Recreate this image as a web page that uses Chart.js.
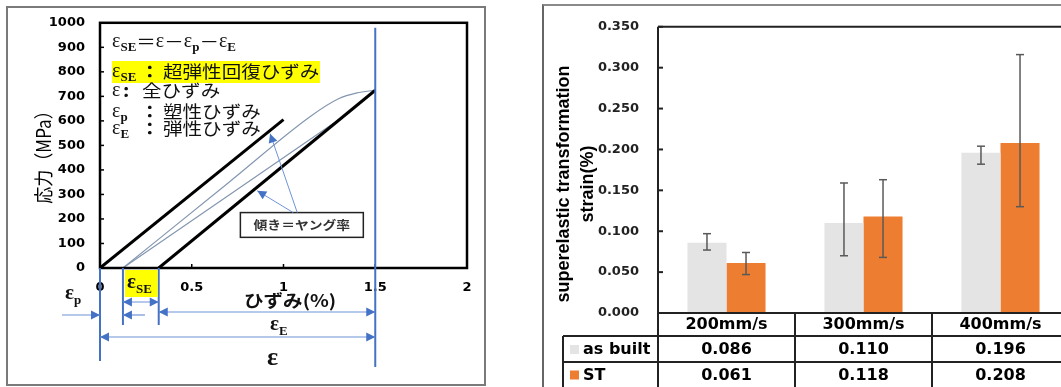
<!DOCTYPE html>
<html>
<head>
<meta charset="utf-8">
<script src="https://cdn.jsdelivr.net/npm/chart.js@4.4.1/dist/chart.umd.min.js"></script>
<style>
html, body { margin: 0; padding: 0; background: #fff; width: 1061px; height: 387px; overflow: hidden; }
#leftFrame { position: absolute; left: 6px; top: 6px; width: 476px; height: 376px; border: 2px solid #7a7a7a; }
#rightFrame { position: absolute; left: 542px; top: 4px; width: 600px; height: 400px; border-left: 2px solid #666; border-top: 2px solid #8a8a8a; }
#leftChart { position: absolute; left: 0; top: 0; }
#rightChart { position: absolute; left: 543px; top: 0; }
</style>
</head>
<body>
<div id="leftFrame"></div>
<div id="rightFrame"></div>
<canvas id="leftChart" width="492" height="387"></canvas>
<canvas id="rightChart" width="530" height="387"></canvas>
<script>
// ---- left: stress-strain sketch ----
const stressTicks = [0, 100, 200, 300, 400, 500, 600, 700, 800, 900, 1000];
const strainTicks = [0, 0.5, 1, 1.5, 2];

const plasticStrain = [0, 1.0];          // line from origin (slope = Young's modulus)
const plasticStress = [0, 605];
const elasticStrain = [0.32, 1.5];       // unloading elastic line
const elasticStress = [0, 725];
const loadStrain = [0.125, 0.7, 1.15, 1.3, 1.4, 1.5];
const loadStress = [0, 348, 620, 690, 714, 725];
const unloadStrain = [0.125, 1.35, 1.5];
const unloadStress = [0, 630, 725];
const markerStrain = [0, 0.125, 0.32, 1.5];

// ---- right: superelastic strain by scan speed ----
const speeds = ['200mm/s', '300mm/s', '400mm/s'];
const asBuilt = [0.086, 0.110, 0.196];
const st = [0.061, 0.118, 0.208];
const asBuiltErrUp = [0.011, 0.049, 0.008];
const asBuiltErrDown = [0.009, 0.040, 0.014];
const stErrUp = [0.013, 0.045, 0.108];
const stErrDown = [0.014, 0.050, 0.078];
const seTicks = [0, 0.05, 0.1, 0.15, 0.2, 0.25, 0.3, 0.35];

const BLUE = '#4472c4';
const GRAY_BAR = '#e4e4e4';
const ORANGE = '#ed7d31';

const zip = (xs, ys) => xs.map((x, i) => ({ x: x, y: ys[i] }));

const EPS = '20px "Liberation Serif", "DejaVu Serif", serif';
const EPSB = 'bold 21px "Liberation Serif", "DejaVu Serif", serif';
const SUB = 'bold 13px "Liberation Serif", "DejaVu Serif", serif';
const JP = '17px "Noto Sans CJK JP", sans-serif';
const JPB = 'bold 17px "Noto Sans CJK JP", sans-serif';
const JP_STRETCH = 1.15;   // the source image is drawn a little wide

function eps(sub, big) {
    const p = [['ε', big ? EPSB : EPS, 5]];
    if (sub) p.push([sub, SUB, 9]);
    return p;
}

// parts: [text, font, baseline offset, horizontal stretch]
function richText(ctx, x, c, parts) {
    ctx.textAlign = 'left';
    ctx.textBaseline = 'alphabetic';
    for (const [text, font, dy, sx = 1] of parts) {
        ctx.font = font;
        ctx.save();
        ctx.translate(x, c + dy);
        ctx.scale(sx, 1);
        ctx.fillText(text, 0, 0);
        ctx.restore();
        x += ctx.measureText(text).width * sx;
    }
    return x;
}

function line(ctx, x1, y1, x2, y2) {
    ctx.beginPath();
    ctx.moveTo(x1, y1);
    ctx.lineTo(x2, y2);
    ctx.stroke();
}

function head(ctx, x1, y1, x2, y2) {
    // filled arrowhead at (x2, y2) pointing away from (x1, y1)
    const a = Math.atan2(y2 - y1, x2 - x1);
    const h = 9, w = 4.5;
    const c = Math.cos(a), s = Math.sin(a);
    ctx.beginPath();
    ctx.moveTo(x2, y2);
    ctx.lineTo(x2 - h * c + w * s, y2 - h * s - w * c);
    ctx.lineTo(x2 - h * c - w * s, y2 - h * s + w * c);
    ctx.closePath();
    ctx.fill();
}

function arrow(ctx, x1, y1, x2, y2, both) {
    line(ctx, x1, y1, x2, y2);
    head(ctx, x1, y1, x2, y2);
    if (both) head(ctx, x2, y2, x1, y1);
}

const leftDeco = {
    id: 'leftDeco',
    afterDraw(chart) {
        const { ctx, chartArea: a, scales: { x, y } } = chart;
        ctx.save();

        // plot frame and inward ticks
        ctx.strokeStyle = '#000';
        ctx.lineWidth = 2.5;
        ctx.strokeRect(a.left, a.top, a.right - a.left, a.bottom - a.top);
        ctx.lineWidth = 1.5;
        stressTicks.forEach(v => {
            const py = y.getPixelForValue(v);
            line(ctx, a.left, py, a.left + 4, py);
        });
        strainTicks.forEach(v => {
            const px = x.getPixelForValue(v);
            line(ctx, px, a.bottom, px, a.bottom - 4);
        });

        // axis title
        ctx.save();
        ctx.translate(44, 153);
        ctx.rotate(-Math.PI / 2);
        ctx.scale(1, 1.15);
        ctx.font = '17px "Noto Sans CJK JP", sans-serif';
        ctx.fillStyle = '#000';
        ctx.textAlign = 'center';
        ctx.textBaseline = 'middle';
        ctx.fillText('応力（MPa）', 0, 0);
        ctx.restore();

        // legend block
        const lx = a.left + 12;
        const S = JP_STRETCH;
        ctx.fillStyle = '#ffff00';
        ctx.fillRect(lx, 61, 208, 22);
        ctx.fillStyle = '#111';
        richText(ctx, lx, 42, [...eps('SE'), ['＝', JP, 6, S], ...eps(), ['－', JP, 6, S],
            ...eps('p'), ['－', JP, 6, S], ...eps('E')]);
        richText(ctx, lx, 72, eps('SE'));
        richText(ctx, lx + 28, 72, [['：', JPB, 6, S]]);
        richText(ctx, lx + 51, 72, [['超弾性回復ひずみ', JP, 6, S]]);
        richText(ctx, lx, 91, eps());
        richText(ctx, lx + 11, 91, [[':', JPB, 6, S]]);
        richText(ctx, lx + 30, 91, [['全ひずみ', JP, 6, S]]);
        richText(ctx, lx, 112, eps('p'));
        richText(ctx, lx + 28, 112, [['：', JPB, 6, S]]);
        richText(ctx, lx + 51, 112, [['塑性ひずみ', JP, 6, S]]);
        richText(ctx, lx, 129, eps('E'));
        richText(ctx, lx + 28, 129, [['：', JPB, 6, S]]);
        richText(ctx, lx + 51, 129, [['弾性ひずみ', JP, 6, S]]);

        // slope note box with arrows
        const bx1 = x.getPixelForValue(0.765), bx2 = x.getPixelForValue(1.435);
        const by1 = y.getPixelForValue(226), by2 = y.getPixelForValue(125);
        ctx.fillStyle = '#fff';
        ctx.fillRect(bx1, by1, bx2 - bx1, by2 - by1);
        ctx.strokeStyle = '#222';
        ctx.lineWidth = 1.5;
        ctx.strokeRect(bx1, by1, bx2 - bx1, by2 - by1);
        ctx.fillStyle = '#333';
        ctx.font = 'bold 12px "Noto Sans CJK JP", sans-serif';
        ctx.save();
        ctx.translate((bx1 + bx2) / 2, (by1 + by2) / 2);
        ctx.scale(1.15, 1);
        ctx.textAlign = 'center';
        ctx.textBaseline = 'middle';
        ctx.fillText('傾き＝ヤング率', 0, 0);
        ctx.restore();
        ctx.strokeStyle = '#6f93d6';
        ctx.fillStyle = BLUE;
        ctx.lineWidth = 1;
        arrow(ctx, x.getPixelForValue(1.075), by1, x.getPixelForValue(0.927), y.getPixelForValue(548));
        arrow(ctx, x.getPixelForValue(1.053), by1, x.getPixelForValue(0.857), y.getPixelForValue(315));

        // blue marker lines
        const px = markerStrain.map(v => x.getPixelForValue(v));
        ctx.strokeStyle = BLUE;
        ctx.lineWidth = 2;
        line(ctx, px[0], a.bottom, px[0], a.bottom + 93);
        line(ctx, px[1], a.bottom, px[1], a.bottom + 57);
        line(ctx, px[2], a.bottom, px[2], a.bottom + 57);
        line(ctx, px[3], a.top + 5, px[3], a.bottom + 99);

        // yellow eps_SE label
        ctx.fillStyle = '#ffff00';
        ctx.fillRect(px[1] + 2, a.bottom + 2, px[2] - px[1] - 3, 27);
        ctx.fillStyle = '#111';
        richText(ctx, px[1] + 4, a.bottom + 15, [['ε', EPSB, 5], ['SE', SUB, 10]]);

        // dimension arrows
        ctx.strokeStyle = '#6f93d6';
        ctx.fillStyle = BLUE;
        ctx.lineWidth = 1.2;
        arrow(ctx, px[1], a.bottom + 34, px[2], a.bottom + 34, true);
        arrow(ctx, px[1] + 22, a.bottom + 47, px[1], a.bottom + 47);
        arrow(ctx, px[0] - 38, a.bottom + 47, px[0], a.bottom + 47);
        arrow(ctx, px[2], a.bottom + 44, px[3], a.bottom + 44, true);
        arrow(ctx, px[0], a.bottom + 69, px[3], a.bottom + 69, true);

        // labels under the axis
        ctx.fillStyle = '#111';
        richText(ctx, px[0] - 35, a.bottom + 26, [['ε', EPSB, 5], ['p', SUB, 10]]);
        richText(ctx, 244, a.bottom + 33, [['ひずみ(%)', 'bold 17px "Noto Sans CJK JP", sans-serif', 6, 1.15]]);
        richText(ctx, 270, a.bottom + 57, [['ε', EPSB, 5], ['E', SUB, 10]]);
        richText(ctx, 267, a.bottom + 90, [['ε', 'bold 26px "Liberation Serif", serif', 7]]);
        ctx.restore();
    }
};

new Chart(document.getElementById('leftChart'), {
    type: 'scatter',
    data: {
        datasets: [
            { data: zip(plasticStrain, plasticStress), borderColor: '#000', borderWidth: 3, showLine: true, pointRadius: 0, tension: 0 },
            { data: zip(elasticStrain, elasticStress), borderColor: '#000', borderWidth: 3, showLine: true, pointRadius: 0, tension: 0 },
            { data: zip(loadStrain, loadStress), borderColor: '#8497b0', borderWidth: 1.2, showLine: true, pointRadius: 0, cubicInterpolationMode: 'monotone' },
            { data: zip(unloadStrain, unloadStress), borderColor: '#8497b0', borderWidth: 1.2, showLine: true, pointRadius: 0, tension: 0 }
        ]
    },
    options: {
        responsive: false,
        animation: false,
        devicePixelRatio: 1,
        layout: { padding: { left: 0, top: 20, right: 25, bottom: 0 } },
        plugins: { legend: { display: false }, tooltip: { enabled: false } },
        scales: {
            x: {
                type: 'linear', min: 0, max: 2,
                afterBuildTicks: s => { s.ticks = strainTicks.map(v => ({ value: v })); },
                grid: { display: false, drawTicks: false },
                border: { display: false },
                ticks: { font: { family: 'DejaVu Sans', weight: 'bold', size: 13 }, color: '#000', padding: 12, callback: v => String(v) },
                afterFit: s => { s.height = 119; }
            },
            y: {
                min: 0, max: 1000,
                afterBuildTicks: s => { s.ticks = stressTicks.map(v => ({ value: v })); },
                grid: { display: false, drawTicks: false },
                border: { display: false },
                ticks: { font: { family: 'DejaVu Sans', weight: 'bold', size: 13 }, color: '#000', padding: 15, callback: v => String(v) },
                afterFit: s => { s.width = 100; }
            }
        }
    },
    plugins: [leftDeco]
});

// ---- right chart plugins ----
const errorBars = {
    id: 'errorBars',
    afterDatasetsDraw(chart) {
        const { ctx, scales: { y } } = chart;
        const errs = [[asBuiltErrUp, asBuiltErrDown], [stErrUp, stErrDown]];
        ctx.save();
        ctx.strokeStyle = '#595959';
        ctx.lineWidth = 1.5;
        chart.data.datasets.forEach((ds, di) => {
            chart.getDatasetMeta(di).data.forEach((bar, i) => {
                const v = ds.data[i];
                const top = y.getPixelForValue(v + errs[di][0][i]);
                const bot = y.getPixelForValue(v - errs[di][1][i]);
                const cx = bar.x;
                line(ctx, cx, top, cx, bot);
                line(ctx, cx - 4, top, cx + 4, top);
                line(ctx, cx - 4, bot, cx + 4, bot);
            });
        });
        ctx.restore();
    }
};

const dataTable = {
    id: 'dataTable',
    afterDraw(chart) {
        const { ctx, chartArea: a, scales: { x, y } } = chart;
        const W = chart.width, H = chart.height;
        const cw = (a.right - a.left) / speeds.length;
        const legendLeft = a.left - 95;
        const r1 = a.bottom + 23, r2 = a.bottom + 49;
        ctx.save();
        ctx.strokeStyle = '#222';
        ctx.lineWidth = 2;
        line(ctx, a.left, a.top, W, a.top);
        line(ctx, a.left, a.top, a.left, H);
        line(ctx, a.left, a.bottom, W, a.bottom);
        seTicks.forEach(v => {
            const py = y.getPixelForValue(v);
            line(ctx, a.left, py, a.left + 5, py);
        });
        line(ctx, legendLeft, r1, W, r1);
        line(ctx, legendLeft, r2, W, r2);
        line(ctx, legendLeft, r1, legendLeft, H);
        for (let i = 1; i < speeds.length; i++) {
            line(ctx, a.left + i * cw, a.bottom, a.left + i * cw, H);
        }

        // values
        ctx.font = 'bold 16px "DejaVu Sans", sans-serif';
        ctx.fillStyle = '#000';
        ctx.textAlign = 'center';
        ctx.textBaseline = 'middle';
        const rows = [[asBuilt, (r1 + r2) / 2 + 1], [st, (r2 + H) / 2 + 1]];
        rows.forEach(([vals, cy]) => {
            vals.forEach((v, i) => ctx.fillText(v.toFixed(3), x.getPixelForValue(i), cy));
        });

        // legend keys
        const names = ['as built', 'ST'];
        const colors = [GRAY_BAR, ORANGE];
        ctx.textAlign = 'left';
        rows.forEach(([, cy], i) => {
            ctx.fillStyle = colors[i];
            ctx.fillRect(legendLeft + 7, cy - 5, 9, 9);
            ctx.fillStyle = '#000';
            ctx.fillText(names[i], legendLeft + 20, cy);
        });

        // y axis title
        ctx.save();
        ctx.translate(0, 184);
        ctx.rotate(-Math.PI / 2);
        ctx.font = 'bold 18px "Liberation Sans", Arial, sans-serif';
        ctx.textAlign = 'center';
        ctx.fillText('superelastic transformation', 0, 21);
        ctx.fillText('strain(%)', 0, 45);
        ctx.restore();
        ctx.restore();
    }
};

new Chart(document.getElementById('rightChart'), {
    type: 'bar',
    data: {
        labels: speeds,
        datasets: [
            { label: 'as built', data: asBuilt, backgroundColor: GRAY_BAR, categoryPercentage: 0.57, barPercentage: 1.0 },
            { label: 'ST', data: st, backgroundColor: ORANGE, categoryPercentage: 0.57, barPercentage: 1.0 }
        ]
    },
    options: {
        responsive: false,
        animation: false,
        devicePixelRatio: 1,
        layout: { padding: { left: 0, top: 13, right: 4, bottom: 0 } },
        plugins: { legend: { display: false }, tooltip: { enabled: false } },
        scales: {
            x: {
                grid: { display: false, drawTicks: false },
                border: { display: false },
                ticks: { font: { family: 'DejaVu Sans', weight: 'bold', size: 16 }, color: '#000', padding: 2, maxRotation: 0, autoSkip: false },
                afterFit: s => { s.height = 74; }
            },
            y: {
                min: 0, max: 0.35,
                afterBuildTicks: s => { s.ticks = seTicks.map(v => ({ value: v })); },
                grid: { display: false, drawTicks: false },
                border: { display: false },
                ticks: { font: { family: 'DejaVu Sans', weight: 'bold', size: 13 }, color: '#222', padding: 19, callback: v => v.toFixed(3) },
                afterFit: s => { s.width = 115; }
            }
        }
    },
    plugins: [errorBars, dataTable]
});
</script>
</body>
</html>
